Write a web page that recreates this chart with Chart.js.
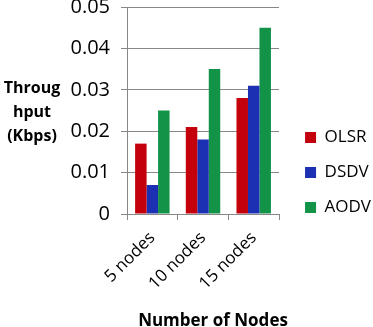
<!DOCTYPE html>
<html>
<head>
<meta charset="utf-8">
<script src="https://cdn.jsdelivr.net/npm/chart.js@4"></script>
<style>
  html, body { margin: 0; padding: 0; background: #fff; }
  #wrap { width: 373px; height: 327px; position: relative; }
</style>
</head>
<body>
<div id="wrap"><canvas id="bar-chart"></canvas></div>
<script>
const categories = ['5 nodes', '10 nodes', '15 nodes']
const seriesNames = ['OLSR', 'DSDV', 'AODV']
const olsrValues = [0.017, 0.021, 0.028]
const dsdvValues = [0.007, 0.018, 0.031]
const aodvValues = [0.025, 0.035, 0.045]
const yTitleLines = ['Throug', 'hput', '(Kbps)']
const xTitle = 'Number of Nodes'

const seriesValues = [olsrValues, dsdvValues, aodvValues]
const barColors = ['#C3000B', '#1C30B4', '#129348']
const fontFamily = '"Open Sans", sans-serif'

const barDatasets = []
for (let i = 0; i < seriesNames.length; i++) {
  barDatasets.push({
    label: seriesNames[i],
    data: seriesValues[i],
    backgroundColor: barColors[i],
    borderWidth: 0,
    categoryPercentage: 0.68,
    barPercentage: 1.0,
  })
}

// axis titles drawn by hand: y title stays horizontal, x title sits right of centre
const axisTitlePlugin = {
  id: 'axisTitles',
  afterLayout (chart) {
    // nudge the legend a bit right and down, as in the original
    const legend = chart.legend
    legend.left += 8
    legend.right += 8
    legend.top += 9
    legend.bottom += 9
  },
  afterDraw (chart) {
    const ctx = chart.ctx
    ctx.save()
    ctx.fillStyle = '#000'
    ctx.textAlign = 'center'
    ctx.textBaseline = 'alphabetic'
    ctx.font = 'bold 16px ' + fontFamily
    const ys = [93, 117, 141]
    for (let i = 0; i < yTitleLines.length; i++) {
      ctx.fillText(yTitleLines[i], 32, ys[i])
    }
    ctx.font = 'bold 17px ' + fontFamily
    ctx.fillText(xTitle, 213, 326)
    ctx.restore()
  },
}

const barChartConfig = {
  type: 'bar',
  data: {
    labels: categories,
    datasets: barDatasets,
  },
  options: {
    responsive: true,
    maintainAspectRatio: false,
    animation: false,
    layout: {
      padding: { top: 0, right: 0, left: 0, bottom: 0 },
    },
    plugins: {
      title: { display: false },
      tooltip: { enabled: false },
      legend: {
        display: true,
        position: 'right',
        maxWidth: 100,
        labels: {
          boxWidth: 11,
          boxHeight: 11,
          padding: 18,
          color: '#000',
          font: { family: fontFamily, size: 17, lineHeight: 1.1 },
        },
      },
    },
    scales: {
      x: {
        afterFit (scale) {
          scale.height = 113
          scale.paddingLeft = 0
          scale.paddingRight = 0
        },
        grid: {
          display: true,
          offset: true,
          drawOnChartArea: false,
          tickLength: 6,
          color: '#888',
        },
        border: { color: '#888' },
        ticks: {
          minRotation: 45,
          maxRotation: 45,
          color: '#000',
          padding: 8,
          font: { family: fontFamily, size: 17 },
        },
      },
      y: {
        min: 0,
        max: 0.05,
        afterFit (scale) {
          scale.width = 127
          scale.paddingTop = 7
          scale.paddingBottom = 0
        },
        grid: {
          color: '#888',
          tickLength: 6,
        },
        border: { color: '#888' },
        ticks: {
          stepSize: 0.01,
          color: '#000',
          padding: 11,
          font: { family: fontFamily, size: 20 },
          callback: function (value) {
            return value === 0 ? '0' : value.toFixed(2)
          },
        },
      },
    },
  },
  plugins: [axisTitlePlugin],
}

const barChartCanvas = document.getElementById('bar-chart').getContext('2d')
const barChart = new Chart(barChartCanvas, barChartConfig)
</script>
</body>
</html>
